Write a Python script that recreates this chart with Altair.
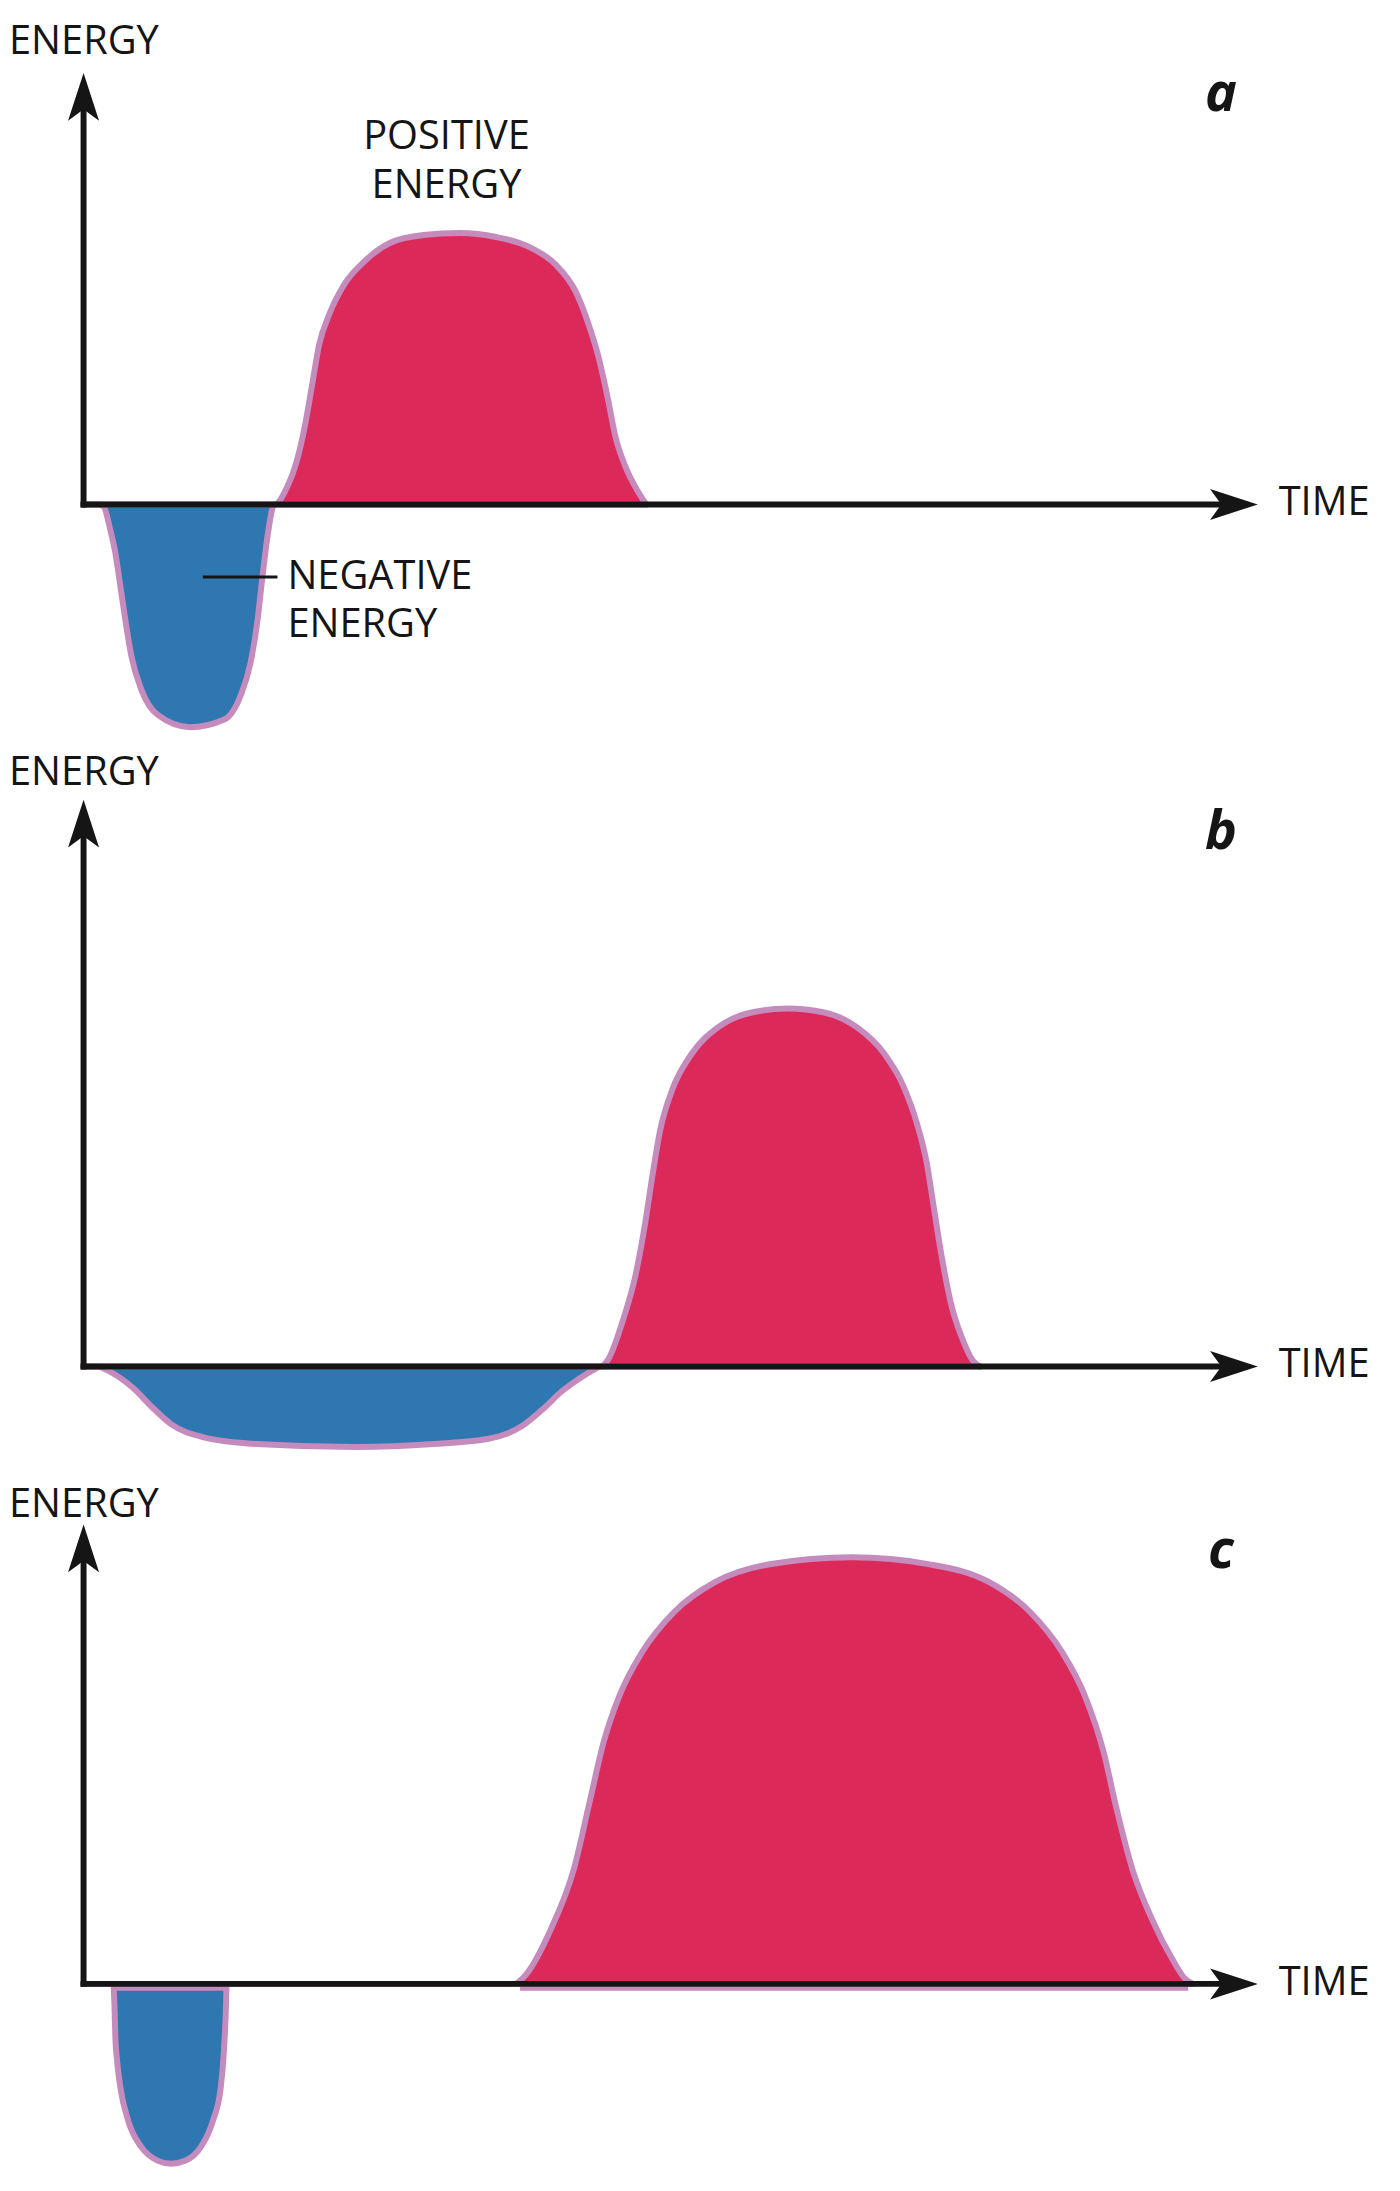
import altair as alt
import pandas as pd

# Curve readings per panel: time and energy measured from the origin of the axes
A_TIME = [0, 14, 20, 27, 32, 37, 42, 48, 58, 75, 107, 142, 158, 168, 175, 180, 185, 192,
          205, 214, 223, 230, 237, 247, 262, 282, 308, 342, 378, 415, 448, 475, 495,
          508, 518, 527, 535, 545, 557, 566]
A_ENERGY = [0, 0, -2, -26, -49, -82, -116, -152, -186, -212, -224, -216, -192, -159, -116, -72, -32, 0,
            18, 42, 81, 121, 161, 191, 221, 244, 263, 271, 273, 269, 259, 241, 214,
            181, 148, 108, 68, 38, 14, 0]

B_TIME = [0, 14, 24, 49, 70, 88, 120, 174, 274, 352, 406, 441, 463, 481, 502, 512, 520,
          527, 542, 555, 565, 572, 580, 592, 612, 638, 672, 708, 745, 778, 805, 825,
          838, 848, 855, 863, 873, 885, 895, 902]
B_ENERGY = [0, 0, -4, -21, -42, -58, -71, -78, -81, -78, -73, -60, -42, -25, -10, -4, 0,
            6, 45, 91, 145, 191, 238, 278, 315, 341, 356, 360, 356, 341, 315, 281,
            245, 205, 161, 111, 61, 25, 5, 0]

C_TIME = [0, 30, 31, 32, 34, 37, 45, 58, 75, 88, 102, 118, 130, 138, 141, 143, 144,
          433, 442, 470, 493, 509, 523, 539, 562, 594, 635, 690, 773, 851, 911, 952,
          984, 1007, 1026, 1039, 1055, 1076, 1095, 1108, 1116]
C_ENERGY = [0, 0, -20, -54, -80, -104, -138, -164, -178, -181, -178, -164, -138, -104, -70, -30, 0,
            0, 6, 55, 115, 183, 243, 290, 334, 374, 404, 422, 429, 422, 404, 374,
            334, 290, 233, 176, 115, 62, 25, 5, 0]

PANEL_LETTERS = ['a', 'b', 'c']
AXIS_LABEL_Y = 'ENERGY'
AXIS_LABEL_X = 'TIME'
CALLOUT_POS = 'POSITIVE\nENERGY'
CALLOUT_NEG = 'NEGATIVE\nENERGY'

# layout of each panel (pixel-like units, 1 unit = 1 px)
X_DOMAIN = [-76, 1316]
WIDTH = 1392
X_END = 1150
ARROW_X = 1157
TIME_LABEL_X = 1202
LETTER_X = 1144
LAYOUT = [
    dict(y_domain=[-237, 493], y_tip=434, energy_y=453, letter_y=396, callouts=True, underline=False),
    dict(y_domain=[-98, 630], y_tip=570, energy_y=585, letter_y=520, callouts=False, underline=False),
    dict(y_domain=[-202, 523], y_tip=462, energy_y=470, letter_y=418, callouts=False, underline=True),
]

FONT = 'Open Sans'
INK = '#151515'
OUTLINE = '#c68bbd'
FILL = {'negative': '#2e77b1', 'positive': '#db2a5a'}

ARROW_RIGHT = 'M1,0 L-1,-0.65 Q-0.62,-0.12 -0.52,0 Q-0.62,0.12 -1,0.65 Z'
ARROW_UP = 'M0,-1 L0.65,1 Q0.12,0.62 0,0.52 Q-0.12,0.62 -0.65,1 Z'


def split_parts(time, energy):
    rows = []
    for t, e in zip(time, energy):
        if e <= 0:
            rows.append({'t': t, 'e': e, 'part': 'negative'})
        if e >= 0:
            rows.append({'t': t, 'e': e, 'part': 'positive'})
    return pd.DataFrame(rows)


def make_panel(letter, time, energy, lay):
    x = alt.X('t:Q', scale=alt.Scale(domain=X_DOMAIN, nice=False, zero=False), axis=None)
    y = alt.Y('e:Q', scale=alt.Scale(domain=lay['y_domain'], nice=False, zero=False),
              axis=None, stack=None)

    curve = split_parts(time, energy)
    base = alt.Chart(curve)
    fill = base.mark_area(interpolate='monotone').encode(
        x=x, y=y, y2=alt.datum(0),
        color=alt.Color('part:N', scale=alt.Scale(domain=list(FILL.keys()),
                                                  range=list(FILL.values())), legend=None)
    )
    outline = base.mark_line(interpolate='monotone', color=OUTLINE, strokeWidth=6,
                             strokeJoin='round', strokeCap='round').encode(
        x=x, y=y, detail='part:N'
    )
    layers = [fill, outline]

    if lay['underline']:
        spans = []
        for part, grp in curve.groupby('part'):
            nz = grp[grp['e'] != 0]
            spans.append({'t': nz['t'].min() - 3, 't2': nz['t'].max() + 3, 'e': -5})
        layers.append(alt.Chart(pd.DataFrame(spans)).mark_rule(
            color=OUTLINE, strokeWidth=4).encode(x=x, x2='t2:Q', y=y))

    x_axis = alt.Chart(pd.DataFrame({'t': [-3], 't2': [X_END], 'e': [0]})).mark_rule(
        color=INK, strokeWidth=6).encode(x=x, x2='t2:Q', y=y)
    y_axis = alt.Chart(pd.DataFrame({'t': [0], 'e': [-3], 'e2': [lay['y_tip'] - 34]})).mark_rule(
        color=INK, strokeWidth=6).encode(x=x, y=y, y2='e2:Q')
    head_x = alt.Chart(pd.DataFrame({'t': [ARROW_X], 'e': [0]})).mark_point(
        shape=ARROW_RIGHT, size=2304, filled=True, color=INK, opacity=1).encode(x=x, y=y)
    head_y = alt.Chart(pd.DataFrame({'t': [0], 'e': [lay['y_tip'] - 24]})).mark_point(
        shape=ARROW_UP, size=2304, filled=True, color=INK, opacity=1).encode(x=x, y=y)
    layers += [x_axis, y_axis, head_x, head_y]

    labels = pd.DataFrame([
        {'t': -75, 'e': lay['energy_y'], 'text': AXIS_LABEL_Y},
        {'t': TIME_LABEL_X, 'e': -11, 'text': AXIS_LABEL_X},
    ])
    layers.append(alt.Chart(labels).mark_text(
        align='left', baseline='alphabetic', font=FONT, fontSize=40, color=INK
    ).encode(x=x, y=y, text='text:N'))

    layers.append(alt.Chart(pd.DataFrame({'t': [LETTER_X], 'e': [lay['letter_y']], 'text': [letter]}))
                  .mark_text(align='center', baseline='alphabetic', font=FONT, fontSize=54,
                             fontWeight='bold', fontStyle='italic', color=INK)
                  .encode(x=x, y=y, text='text:N'))

    if lay['callouts']:
        pos = pd.DataFrame({'t': [365], 'e': [357], 'text': [CALLOUT_POS]})
        neg = pd.DataFrame({'t': [205], 'e': [-85], 'text': [CALLOUT_NEG]})
        layers.append(alt.Chart(pos).mark_text(
            align='center', baseline='alphabetic', lineBreak='\n', lineHeight=49,
            font=FONT, fontSize=40, color=INK).encode(x=x, y=y, text='text:N'))
        layers.append(alt.Chart(neg).mark_text(
            align='left', baseline='alphabetic', lineBreak='\n', lineHeight=48,
            font=FONT, fontSize=40, color=INK).encode(x=x, y=y, text='text:N'))
        leader = pd.DataFrame({'t': [120], 't2': [195], 'e': [-73]})
        layers.append(alt.Chart(leader).mark_rule(color=INK, strokeWidth=3)
                      .encode(x=x, x2='t2:Q', y=y))

    return alt.layer(*layers).properties(
        width=WIDTH, height=lay['y_domain'][1] - lay['y_domain'][0]
    )


panels = [
    make_panel(PANEL_LETTERS[0], A_TIME, A_ENERGY, LAYOUT[0]),
    make_panel(PANEL_LETTERS[1], B_TIME, B_ENERGY, LAYOUT[1]),
    make_panel(PANEL_LETTERS[2], C_TIME, C_ENERGY, LAYOUT[2]),
]

chart = alt.vconcat(*panels, spacing=0, bounds='flush', padding=0).configure_view(
    stroke=None
).properties(background='white')

chart.save('out.html', embed_options={'renderer': 'svg', 'actions': False})
